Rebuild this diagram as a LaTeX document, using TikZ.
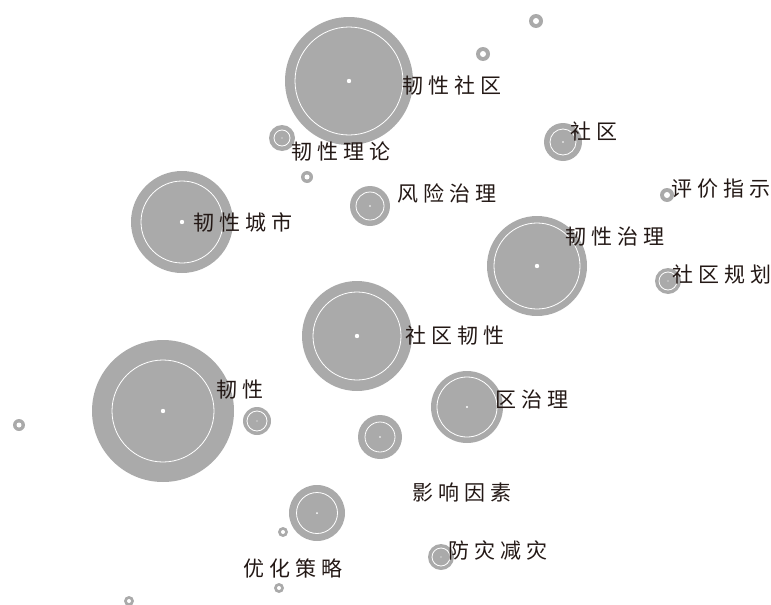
\documentclass[tikz,border=0pt]{standalone}
\usepackage{fontspec}
\newfontfamily\cjk[LetterSpace=24]{Noto Sans CJK SC}
\definecolor{bub}{RGB}{170,170,170}
\definecolor{ink}{HTML}{231815}
\tikzset{
  bubble/.style={circle,fill=bub,inner sep=0pt,minimum size=#1},
  innerring/.style={draw=white,line width=0.8pt},
  lbl/.style={anchor=west,inner sep=0pt,text=ink,font=\cjk\fontsize{21}{25}\selectfont,
    execute at end node={\kern-0.24em}}
}
\newcommand{\bub}[6]{%
  \node[bubble=#4*2pt] (#1) at (#2,#3) {};
  \draw[innerring] (#1.center) circle (#5pt);
  \fill[white] (#1.center) circle (#6pt);}
\newcommand{\ringdot}[5]{%
  \node[bubble=#4*2pt] (#1) at (#2,#3) {};
  \fill[white] (#1.center) circle (#5pt);}
\begin{document}
\begin{tikzpicture}[x=1pt,y=-1pt]
\useasboundingbox (0,0) rectangle (771,605);
\bub{A}{349}{81}{64}{54}{2.2}
\ringdot{B}{536}{21}{7}{3}
\ringdot{C}{483}{54}{7}{3}
\bub{D}{563}{142}{19}{13}{0.9}
\bub{E}{282}{138}{13}{8}{0.7}
\ringdot{F}{307}{177}{6}{2.5}
\bub{G}{370}{206}{20}{14}{0.8}
\ringdot{H}{667}{195}{7}{3}
\bub{I}{182}{222}{51}{41}{2.2}
\bub{J}{537}{266}{50}{43}{2.2}
\bub{K}{668}{281}{13}{9}{0.7}
\bub{L}{357}{336}{55}{44}{2.2}
\bub{M}{163}{411}{71}{51}{2.2}
\bub{N}{257}{421}{14}{10}{0.6}
\ringdot{O}{19}{425}{6}{2.5}
\bub{P}{380}{437}{22}{15}{0.8}
\bub{Q}{467}{407}{36}{30}{1.2}
\bub{R}{317}{513}{28}{20.5}{1}
\ringdot{S}{283}{532}{5}{2}
\bub{T}{441}{557}{13}{9}{0.6}
\ringdot{U}{279}{588}{5}{2}
\ringdot{V}{129}{601}{5}{2}
\node[lbl] (tA) at (402,86) {韧性社区};
\node[lbl] (tE) at (291,152) {韧性理论};
\node[lbl] (tG) at (397,193) {风险治理};
\node[lbl] (tD) at (570,131) {社区};
\node[lbl] (tH) at (671,189) {评价指示};
\node[lbl] (tI) at (193,222) {韧性城市};
\node[lbl] (tJ) at (565,237) {韧性治理};
\node[lbl] (tK) at (672,274) {社区规划};
\node[lbl] (tL) at (405,336) {社区韧性};
\node[lbl] (tM) at (216,390) {韧性};
\node[lbl] (tQ) at (495,400) {区治理};
\node[lbl] (tX) at (412,492) {影响因素};
\node[lbl] (tT) at (448,550) {防灾减灾};
\node[lbl] (tR) at (243,568) {优化策略};
\end{tikzpicture}
\end{document}
